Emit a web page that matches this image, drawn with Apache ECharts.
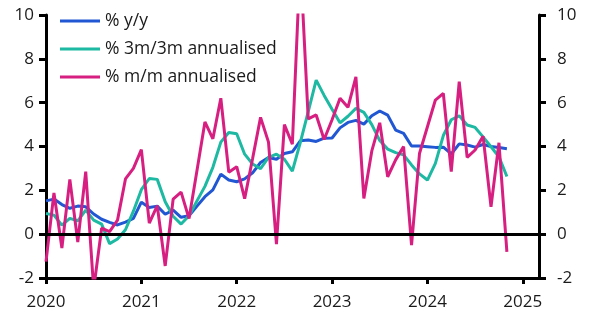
<!DOCTYPE html>
<html>
<head>
<meta charset="utf-8">
<script src="https://cdn.jsdelivr.net/npm/echarts@6/dist/echarts.min.js"></script>
<style>
  html, body { margin: 0; padding: 0; background: #fff; }
  #chart { width: 591px; height: 331px; }
</style>
</head>
<body>
<div id="chart"></div>
<script>
// Monthly data, Jan 2020 .. Nov 2024
const startYear = 2020;
const seriesNames = ['% y/y', '% 3m/3m annualised', '% m/m annualised'];
const yearTicks = [2020, 2021, 2022, 2023, 2024, 2025];
const yTicks = [-2, 0, 2, 4, 6, 8, 10];

const yoy = [1.52, 1.6, 1.35, 1.18, 1.28, 1.25, 0.92, 0.68, 0.54, 0.42, 0.55, 0.72,
             1.46, 1.22, 1.28, 0.91, 1.1, 0.77, 0.84, 1.28, 1.71, 2.02, 2.74, 2.47,
             2.39, 2.52, 2.8, 3.27, 3.5, 3.42, 3.68, 3.76, 4.26, 4.3, 4.23, 4.38,
             4.39, 4.85, 5.1, 5.19, 5.02, 5.4, 5.62, 5.43, 4.75, 4.6, 4.02, 4.02,
             3.99, 3.96, 3.97, 3.66, 4.12, 4.07, 3.97, 4.09, 4.0, 3.95, 3.9];

const m3m3 = [0.94, 0.87, 0.41, 0.72, 0.61, 1.1, 0.64, 0.46, -0.43, -0.22, 0.2, 1.05,
              2.03, 2.54, 2.5, 1.48, 0.82, 0.46, 0.84, 1.52, 2.18, 3.05, 4.2, 4.64,
              4.58, 3.65, 3.2, 2.99, 3.5, 3.65, 3.42, 2.88, 4.18, 5.59, 7.03, 6.33,
              5.7, 5.08, 5.38, 5.74, 5.56, 5.0, 4.27, 3.88, 3.72, 3.62, 3.16, 2.75,
              2.47, 3.23, 4.5, 5.22, 5.4, 4.98, 4.87, 4.44, 3.99, 3.53, 2.63];

const mm = [-1.25, 1.88, -0.63, 2.5, -0.36, 2.85, -2.5, 0.27, 0.12, 0.64, 2.52, 3.0,
            3.86, 0.5, 1.3, -1.45, 1.6, 1.92, 0.71, 2.9, 5.12, 4.35, 6.2, 2.83,
            3.08, 1.62, 3.45, 5.33, 4.2, -0.45, 5.0, 4.1, 12.5, 5.26, 5.44, 4.32,
            5.22, 6.2, 5.79, 7.18, 1.63, 3.8, 5.08, 2.62, 3.39, 4.0, -0.5, 3.68,
            4.9, 6.12, 6.42, 2.85, 6.96, 3.5, 3.84, 4.47, 1.25, 4.17, -0.81];

function toPairs(arr) {
  return arr.map((v, i) => [startYear + i / 12, v]);
}

const colors = ['#2157d3', '#1db9a2', '#d61f80'];
const textColor = '#1a1a1a';
const font = 'Open Sans';

const chart = echarts.init(document.getElementById('chart'), null, { renderer: 'canvas' });

const yAxisCommon = {
  type: 'value',
  min: -2,
  max: 10,
  interval: 2,
  axisLine: { show: true, lineStyle: { color: '#000', width: 3 } },
  axisTick: { show: true, length: 7, lineStyle: { color: '#000', width: 3 } },
  splitLine: { show: false },
  axisLabel: { fontSize: 17, color: textColor, fontFamily: font }
};

chart.setOption({
  animation: false,
  backgroundColor: '#fff',
  grid: { left: 46, right: 52, top: 15, bottom: 53, outerBoundsMode: 'none' },
  legend: {
    data: seriesNames,
    orient: 'vertical',
    left: 55,
    top: 6,
    icon: 'rect',
    itemWidth: 40,
    itemHeight: 3,
    itemGap: 8,
    textStyle: { fontSize: 17.5, color: textColor, fontFamily: font, lineHeight: 20 }
  },
  xAxis: {
    type: 'value',
    min: 2020,
    max: 2025.17,
    interval: 1,
    axisLine: { show: true, onZero: false, lineStyle: { color: '#000', width: 3 } },
    axisTick: { show: true, length: 6, customValues: yearTicks, lineStyle: { color: '#000', width: 3 } },
    splitLine: { show: false },
    axisLabel: {
      fontSize: 17, color: textColor, fontFamily: font, margin: 16,
      customValues: yearTicks,
      formatter: v => String(Math.round(v))
    }
  },
  yAxis: [
    Object.assign({}, yAxisCommon, { position: 'left', axisLabel: Object.assign({}, yAxisCommon.axisLabel, { margin: 12 }) }),
    Object.assign({}, yAxisCommon, { position: 'right', axisLabel: Object.assign({}, yAxisCommon.axisLabel, { margin: 18 }) })
  ],
  series: [
    {
      type: 'line',
      name: '__zero',
      data: [],
      z: 1,
      silent: true,
      markLine: {
        silent: true,
        symbol: 'none',
        label: { show: false },
        lineStyle: { color: '#000', width: 3, type: 'solid' },
        data: [{ yAxis: 0 }]
      }
    },
    {
      type: 'line', name: seriesNames[0], data: toPairs(yoy),
      showSymbol: false, symbol: 'none', clip: true, z: 3,
      lineStyle: { color: colors[0], width: 3 }, itemStyle: { color: colors[0] }
    },
    {
      type: 'line', name: seriesNames[1], data: toPairs(m3m3),
      showSymbol: false, symbol: 'none', clip: true, z: 3,
      lineStyle: { color: colors[1], width: 3 }, itemStyle: { color: colors[1] }
    },
    {
      type: 'line', name: seriesNames[2], data: toPairs(mm),
      showSymbol: false, symbol: 'none', clip: true, z: 3,
      lineStyle: { color: colors[2], width: 3 }, itemStyle: { color: colors[2] }
    }
  ]
});
</script>
</body>
</html>
